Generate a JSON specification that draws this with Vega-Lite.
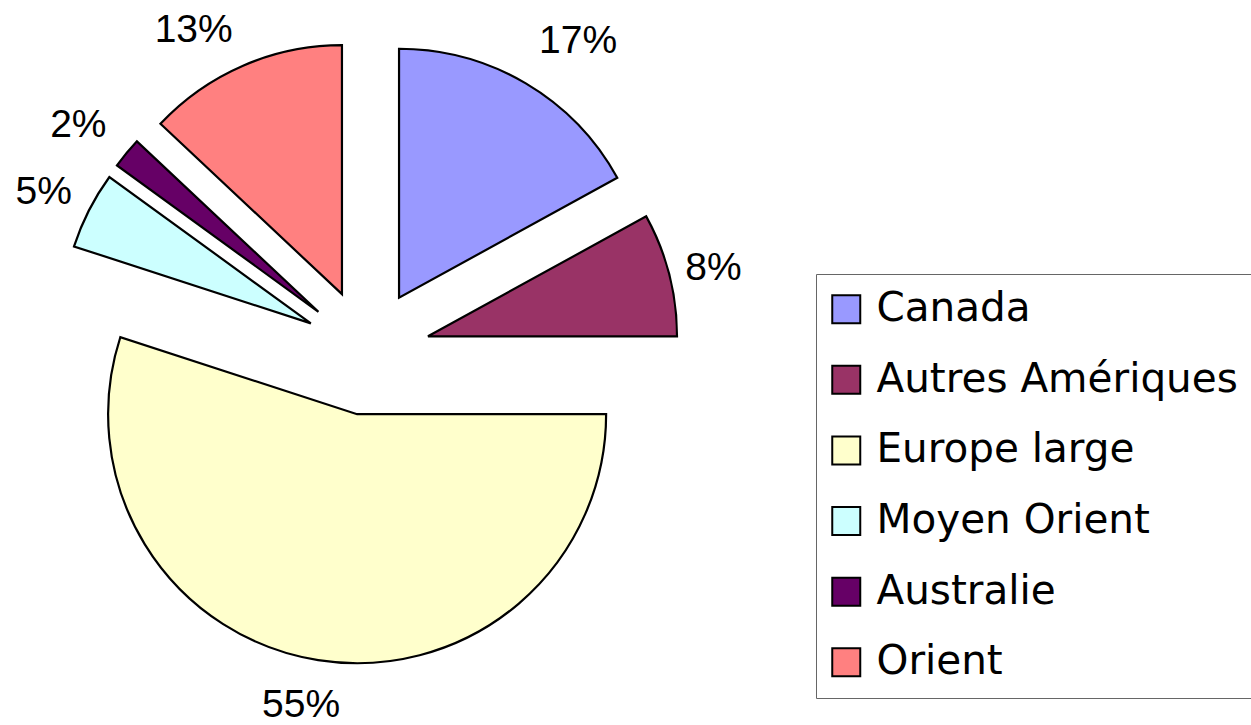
{
  "$schema": "https://vega.github.io/schema/vega-lite/v6.json",
  "width": 1251,
  "height": 725,
  "autosize": "none",
  "padding": 0,
  "background": "white",
  "config": {"view": {"stroke": null}, "font": "Liberation Sans"},
  "data": {"values": [
    {"region": "Canada", "value": 17, "i": 1},
    {"region": "Autres Amériques", "value": 8, "i": 2},
    {"region": "Europe large", "value": 55, "i": 3},
    {"region": "Moyen Orient", "value": 5, "i": 4},
    {"region": "Australie", "value": 2, "i": 5},
    {"region": "Orient", "value": 13, "i": 6}
  ]},
  "transform": [
    {"window": [{"op": "sum", "field": "value", "as": "cum"}], "sort": [{"field": "i"}], "frame": [null, 0]},
    {"calculate": "datum.cum - datum.value", "as": "start"},
    {"calculate": "datum.cum - datum.value / 2", "as": "mid"},
    {"calculate": "sin(datum.mid / 100 * 2 * PI)", "as": "ex"},
    {"calculate": "cos(datum.mid / 100 * 2 * PI)", "as": "ey"},
    {"calculate": "datum.value + '%'", "as": "label"}
  ],
  "layer": [
    {
      "mark": {"type": "arc", "outerRadius": 249, "stroke": "black", "strokeWidth": 2.2, "strokeJoin": "miter"},
      "encoding": {
        "theta": {"field": "start", "type": "quantitative", "stack": null, "scale": {"domain": [0, 100]}},
        "theta2": {"field": "cum"},
        "x": {"field": "ex", "type": "quantitative", "axis": null, "scale": {"domain": [-5.825, 14.032], "nice": false, "zero": false}},
        "y": {"field": "ey", "type": "quantitative", "axis": null, "scale": {"domain": [-5.921, 5.587], "nice": false, "zero": false}},
        "color": {
          "field": "region", "type": "nominal",
          "scale": {
            "domain": ["Canada", "Autres Amériques", "Europe large", "Moyen Orient", "Australie", "Orient"],
            "range": ["#9999FF", "#993366", "#FFFFCC", "#CCFFFF", "#660066", "#FF8080"]
          },
          "legend": {
            "title": null,
            "orient": "none",
            "legendX": 816,
            "legendY": 274,
            "padding": 15,
            "strokeColor": "#666666",
            "fillColor": "white",
            "symbolType": "square",
            "symbolSize": 784,
            "symbolOffset": -5,
            "symbolStrokeColor": "black",
            "symbolStrokeWidth": 2,
            "symbolOpacity": 1,
            "labelFont": "DejaVu Sans",
            "labelFontSize": 40.5,
            "labelColor": "black",
            "labelOffset": 10,
            "labelLimit": 0,
            "rowPadding": 29.6
          }
        }
      }
    },
    {
      "transform": [{"filter": "datum.mid < 15"}],
      "mark": {"type": "text", "radius": 338, "align": "left", "baseline": "alphabetic", "dy": -8, "fontSize": 39, "font": "Liberation Sans", "color": "black"},
      "encoding": {
        "theta": {"field": "mid", "type": "quantitative", "stack": null, "scale": {"domain": [0, 100]}},
        "x": {"datum": 0, "type": "quantitative"},
        "y": {"datum": 0, "type": "quantitative"},
        "text": {"field": "label"}
      }
    },
    {
      "transform": [{"filter": "datum.mid >= 15 && datum.mid < 35"}],
      "mark": {"type": "text", "radius": 338, "align": "left", "baseline": "middle", "dx": -9, "fontSize": 39, "font": "Liberation Sans", "color": "black"},
      "encoding": {
        "theta": {"field": "mid", "type": "quantitative", "stack": null, "scale": {"domain": [0, 100]}},
        "x": {"datum": 0, "type": "quantitative"},
        "y": {"datum": 0, "type": "quantitative"},
        "text": {"field": "label"}
      }
    },
    {
      "transform": [{"filter": "datum.mid >= 35 && datum.mid < 65"}],
      "mark": {"type": "text", "radius": 338, "align": "center", "baseline": "top", "dx": -13, "fontSize": 39, "font": "Liberation Sans", "color": "black"},
      "encoding": {
        "theta": {"field": "mid", "type": "quantitative", "stack": null, "scale": {"domain": [0, 100]}},
        "x": {"datum": 0, "type": "quantitative"},
        "y": {"datum": 0, "type": "quantitative"},
        "text": {"field": "label"}
      }
    },
    {
      "transform": [{"filter": "datum.mid >= 65 && datum.mid < 84"}],
      "mark": {"type": "text", "radius": 338, "align": "right", "baseline": "middle", "dx": 6, "dy": -7, "fontSize": 39, "font": "Liberation Sans", "color": "black"},
      "encoding": {
        "theta": {"field": "mid", "type": "quantitative", "stack": null, "scale": {"domain": [0, 100]}},
        "x": {"datum": 0, "type": "quantitative"},
        "y": {"datum": 0, "type": "quantitative"},
        "text": {"field": "label"}
      }
    },
    {
      "transform": [{"filter": "datum.mid >= 84"}],
      "mark": {"type": "text", "radius": 338, "align": "right", "baseline": "alphabetic", "fontSize": 39, "font": "Liberation Sans", "color": "black"},
      "encoding": {
        "theta": {"field": "mid", "type": "quantitative", "stack": null, "scale": {"domain": [0, 100]}},
        "x": {"datum": 0, "type": "quantitative"},
        "y": {"datum": 0, "type": "quantitative"},
        "text": {"field": "label"}
      }
    }
  ]
}
